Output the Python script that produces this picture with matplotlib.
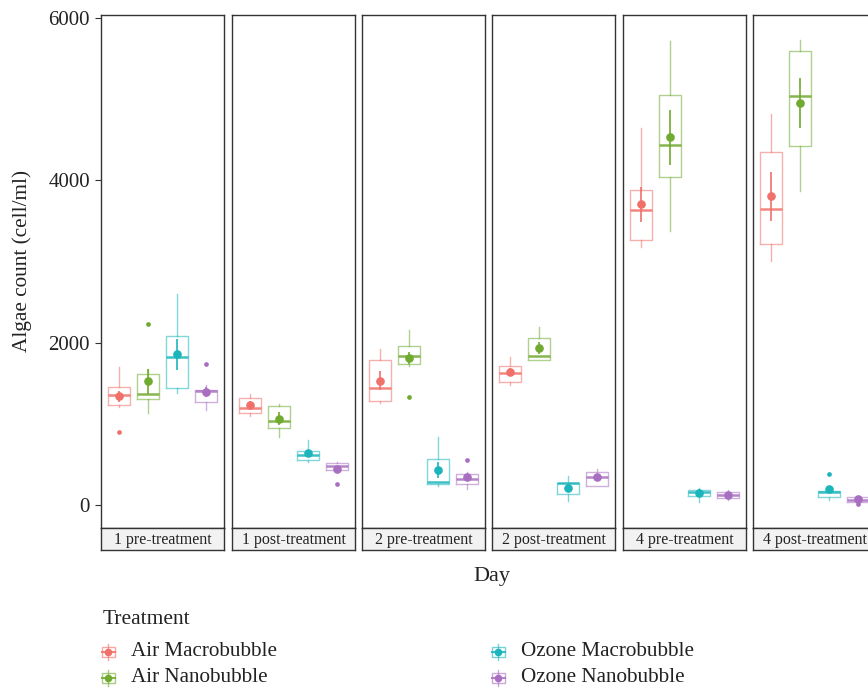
import matplotlib
matplotlib.use('Agg')
import matplotlib.pyplot as plt
from matplotlib.patches import Rectangle
from matplotlib.lines import Line2D

plt.rcParams['font.family'] = ['Liberation Serif', 'DejaVu Serif']

# ---------------- data ----------------
days = ["1 pre-treatment", "1 post-treatment", "2 pre-treatment",
        "2 post-treatment", "4 pre-treatment", "4 post-treatment"]
treatments = ["Air Macrobubble", "Air Nanobubble", "Ozone Macrobubble", "Ozone Nanobubble"]
colors = ["#F0716A", "#70AA30", "#1CB5BC", "#A86FC0"]

# rows: treatments, columns: days
whislo = [[1206, 1092, 1255, 1481, 3170, 3006],
          [1133, 838, 1706, 1779, 3374, 3865],
          [1378, 532, 233, 45, 41, 61],
          [1166, 421, 196, 233, 61, 0]]
q1 = [[1235, 1133, 1284, 1509, 3264, 3219],
      [1304, 949, 1734, 1779, 4042, 4417],
      [1440, 548, 258, 135, 110, 94],
      [1272, 429, 258, 233, 82, 41]]
med = [[1358, 1194, 1436, 1624, 3636, 3648],
       [1370, 1039, 1837, 1837, 4427, 5031],
       [1820, 610, 282, 266, 156, 160],
       [1407, 474, 315, 340, 123, 61]]
q3 = [[1450, 1321, 1783, 1710, 3877, 4348],
      [1611, 1219, 1955, 2061, 5048, 5587],
      [2082, 659, 564, 266, 184, 176],
      [1415, 519, 376, 409, 156, 94]]
whishi = [[1697, 1370, 1922, 1828, 4642, 4814],
          [1677, 1248, 2155, 2196, 5714, 5726],
          [2597, 798, 838, 356, 215, 225],
          [1472, 528, 409, 446, 184, 110]]
means = [[1337, 1227, 1530, 1632, 3702, 3800],
         [1521, 1064, 1808, 1931, 4524, 4945],
         [1853, 634, 429, 209, 151, 192],
         [1390, 446, 344, 340, 123, 70]]
ses = [[70, 50, 120, 50, 215, 300],
       [150, 80, 70, 70, 340, 310],
       [190, 40, 100, 50, 40, 40],
       [60, 30, 40, 40, 25, 30]]
outliers = [[[904], [], [], [], [], []],
            [[2225], [], [1329], [], [], []],
            [[], [], [], [], [], [376]],
            [[1730], [258], [552], [], [], [12]]]
yticks = [0, 2000, 4000, 6000]

# ---------------- layout ----------------
W, H = 868, 688
fig = plt.figure(figsize=(W / 100, H / 100), dpi=100)
panel_left = [101, 232, 362, 492, 623, 753]
panel_w = 123
top, bot, strip_bot = 15, 527.5, 550
border = '#333333'
txt = '#222222'

for d, left in enumerate(panel_left):
    ax = fig.add_axes([left / W, 1 - bot / H, panel_w / W, (bot - top) / H])
    ax.set_xlim(-2.12, 2.12)
    ax.set_ylim(-277, 6032)
    for t in range(4):
        c = colors[t]
        pos = t - 1.5
        stats = [dict(med=med[t][d], q1=q1[t][d], q3=q3[t][d],
                      whislo=whislo[t][d], whishi=whishi[t][d],
                      fliers=outliers[t][d])]
        ax.bxp(stats, positions=[pos], widths=0.76, showcaps=False,
               boxprops=dict(color=c, alpha=0.55, lw=1.0),
               whiskerprops=dict(color=c, alpha=0.55, lw=1.0),
               medianprops=dict(color=c, alpha=0.85, lw=1.8),
               flierprops=dict(marker='o', markerfacecolor=c, markeredgecolor='none',
                               markersize=3.4, linestyle='none'))
        ax.errorbar([pos], [means[t][d]], yerr=[ses[t][d]], fmt='o', color=c,
                    ms=5.2, elinewidth=1.2, capsize=0, zorder=5)
    ax.set_xticks([])
    if d == 0:
        ax.set_yticks(yticks)
        ax.set_yticklabels([str(v) for v in yticks])
        ax.tick_params(axis='y', length=4, width=0.8, color=border,
                       labelsize=15, labelcolor=txt, pad=4)
    else:
        ax.set_yticks([])
    for s in ax.spines.values():
        s.set_color(border)
        s.set_linewidth(1.0)

    sax = fig.add_axes([left / W, 1 - strip_bot / H, panel_w / W, (strip_bot - bot) / H])
    sax.set_facecolor('#F2F2F2')
    sax.set_xticks([])
    sax.set_yticks([])
    for s in sax.spines.values():
        s.set_color(border)
        s.set_linewidth(1.0)
    sax.text(0.5, 0.45, days[d], ha='center', va='center', fontsize=11.5,
             color=txt, transform=sax.transAxes)

# axis titles
fig.text(22 / W, 1 - 261 / H, "Algae count (cell/ml)", rotation=90,
         ha='center', va='center', fontsize=15.3, color=txt)
fig.text(492 / W, 1 - 576 / H, "Day", ha='center', va='center',
         fontsize=16, color=txt)

# legend
lax = fig.add_axes([0, 0, 1, 1])
lax.set_xlim(0, W)
lax.set_ylim(H, 0)
lax.axis('off')
lax.text(103, 620, "Treatment", ha='left', va='center', fontsize=15.5, color=txt)
key_x = [108, 498]
key_y = [652, 678]
for i, name in enumerate(treatments):
    c = colors[i]
    kx = key_x[i // 2]
    ky = key_y[i % 2]
    lax.add_patch(Rectangle((kx - 6.5, ky - 5.2), 13, 10.4, facecolor='none',
                            edgecolor=c, alpha=0.6, lw=1.0))
    lax.add_line(Line2D([kx, kx], [ky - 8, ky + 8], color=c, alpha=0.6, lw=1.0))
    lax.add_line(Line2D([kx - 6.5, kx + 6.5], [ky, ky], color=c, alpha=0.85, lw=1.5))
    lax.plot([kx], [ky], 'o', color=c, ms=4.5)
    lax.text(kx + 23, ky, name, ha='left', va='center', fontsize=15.2, color=txt)

fig.savefig('out.png', dpi=100)
